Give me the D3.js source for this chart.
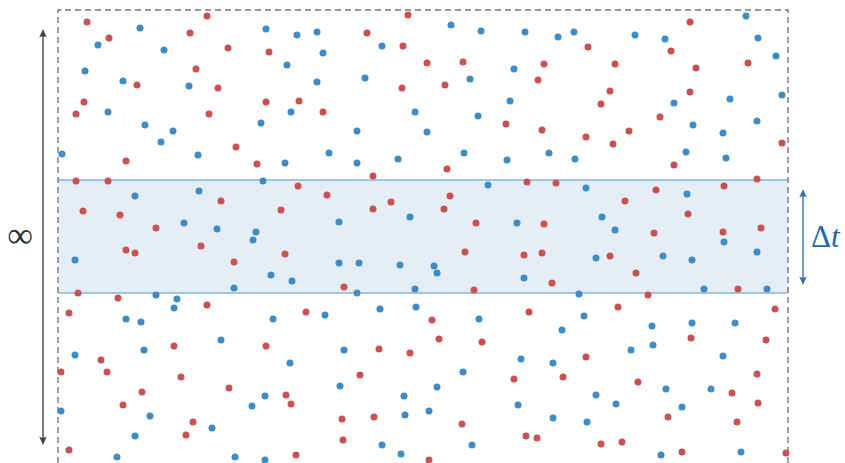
<!DOCTYPE html>
<html lang="en">
<head>
<meta charset="UTF-8" />
<title>Points in a time window</title>
<style>
  body { margin: 0; background: #ffffff; }
  .frame { fill: none; stroke: #777; stroke-width: 1.4; stroke-dasharray: 6 4; }
  .band { fill: #e5eef7; stroke: none; }
  .band-edge { stroke: #88b4d9; stroke-width: 1.3; }
</style>
<script src="https://d3js.org/d3.v7.min.js"></script>
</head>
<body>
<div id="viz"></div>
<script>
  // Field size (arbitrary units, x across, y down)
  const fieldW = 730, fieldH = 453;

  // Highlighted window Δt (y range)
  const bandRange = [170, 283];

  // Red points [x, y]
  const redPoints = [
    [29,12],[149,6],[132,23],[51,28],[170,38],[211,42],[138,59],[79,75],[160,78],[26,92],
    [208,92],[241,91],[18,104],[151,104],[350,5],[309,23],[345,36],[369,53],[405,52],[486,54],
    [344,78],[387,75],[480,70],[265,102],[632,12],[530,37],[613,41],[557,54],[638,58],[690,53],
    [552,81],[632,82],[543,94],[602,107],[68,151],[178,137],[199,154],[18,171],[50,171],[240,176],
    [163,191],[25,201],[62,205],[223,200],[98,218],[448,114],[484,120],[315,166],[389,159],[269,185],
    [315,199],[333,192],[392,186],[386,199],[469,172],[418,213],[486,214],[528,127],[571,121],[555,134],
    [724,133],[616,155],[498,173],[598,180],[666,176],[699,169],[567,191],[630,204],[596,223],[665,222],
    [703,218],[68,240],[77,243],[143,236],[227,244],[176,252],[20,283],[60,288],[11,303],[149,295],
    [116,336],[208,336],[407,242],[466,245],[484,243],[286,277],[416,280],[248,302],[374,310],[471,302],
    [381,329],[424,332],[321,339],[552,246],[578,263],[494,273],[590,285],[680,279],[560,297],[717,299],
    [633,328],[708,330],[43,350],[3,362],[49,362],[123,367],[84,382],[171,378],[228,385],[65,395],
    [233,394],[135,412],[128,425],[11,440],[238,445],[352,343],[302,365],[456,369],[284,409],[316,407],
    [404,414],[285,430],[468,426],[479,428],[371,450],[528,347],[505,367],[580,372],[699,364],[674,383],
    [700,393],[610,407],[679,412],[543,434],[564,432],[624,442],[728,443]
  ];

  // Blue points [x, y]
  const bluePoints = [
    [82,18],[208,19],[239,25],[40,35],[106,40],[27,61],[229,55],[65,71],[131,76],[50,102],
    [233,102],[259,22],[393,15],[423,21],[467,22],[324,36],[265,43],[456,59],[259,72],[307,68],
    [412,69],[452,91],[357,102],[420,106],[500,27],[516,22],[577,25],[607,29],[688,6],[700,28],
    [718,46],[672,89],[724,85],[616,93],[699,111],[87,115],[115,121],[103,132],[203,113],[4,144],
    [140,145],[227,153],[205,171],[77,186],[141,181],[126,213],[159,219],[198,222],[299,121],[369,122],
    [271,143],[299,153],[340,149],[406,143],[449,150],[491,143],[352,207],[430,175],[281,212],[459,213],
    [635,115],[665,123],[517,149],[628,142],[668,148],[528,178],[629,184],[544,207],[557,220],[195,230],
    [17,250],[213,265],[234,271],[176,278],[98,285],[119,289],[116,298],[68,309],[83,312],[215,309],
    [163,330],[86,340],[281,253],[301,253],[342,255],[376,256],[379,263],[466,268],[299,283],[357,279],
    [267,305],[322,299],[358,297],[421,309],[286,340],[666,232],[538,248],[605,246],[634,250],[699,242],
    [521,284],[646,279],[709,279],[526,306],[504,320],[594,316],[634,313],[677,313],[573,340],[595,335],
    [17,345],[232,353],[207,386],[194,396],[3,401],[92,406],[154,418],[77,426],[59,447],[177,447],
    [207,450],[463,349],[405,362],[282,376],[379,377],[346,386],[460,395],[347,405],[371,401],[324,435],
    [414,435],[343,444],[495,353],[665,346],[538,385],[608,379],[653,379],[558,394],[624,397],[495,408],
    [529,412],[603,445],[683,442]
  ];

  const width = 845, height = 463;
  const svg = d3.select('#viz').append('svg')
    .attr('width', width).attr('height', height);

  const x = d3.scaleLinear().domain([0, fieldW]).range([58, 788]);
  const y = d3.scaleLinear().domain([0, fieldH]).range([10, 463]);

  // Band Δt
  svg.append('rect').attr('class', 'band')
    .attr('x', x(0)).attr('y', y(bandRange[0]))
    .attr('width', x(fieldW) - x(0))
    .attr('height', y(bandRange[1]) - y(bandRange[0]));
  bandRange.forEach(v => {
    svg.append('line').attr('class', 'band-edge')
      .attr('x1', x(0)).attr('x2', x(fieldW))
      .attr('y1', y(v)).attr('y2', y(v));
  });

  // Dashed frame (open at bottom)
  svg.append('path').attr('class', 'frame')
    .attr('d', `M${x(0)},${y(fieldH)} L${x(0)},${y(0)} L${x(fieldW)},${y(0)} L${x(fieldW)},${y(fieldH)}`);

  // Points
  svg.selectAll('.red').data(redPoints).enter().append('circle')
    .attr('class', 'red').attr('r', 3.5)
    .attr('cx', d => x(d[0])).attr('cy', d => y(d[1]))
    .attr('fill', '#c95250');
  svg.selectAll('.blue').data(bluePoints).enter().append('circle')
    .attr('class', 'blue').attr('r', 3.5)
    .attr('cx', d => x(d[0])).attr('cy', d => y(d[1]))
    .attr('fill', '#3d8cc6');

  // Double-headed arrow helper
  function arrow(xPos, y0, y1, color) {
    svg.append('line')
      .attr('x1', xPos).attr('x2', xPos)
      .attr('y1', y0 + 2).attr('y2', y1 - 2)
      .attr('stroke', color).attr('stroke-width', 1.4);
    const head = 'M0,0 L-3.8,8.5 Q0,6 3.8,8.5 Z';
    svg.append('path').attr('d', head).attr('fill', color)
      .attr('transform', `translate(${xPos},${y0})`);
    svg.append('path').attr('d', head).attr('fill', color)
      .attr('transform', `translate(${xPos},${y1}) rotate(180)`);
  }

  // Infinity arrow on the left
  arrow(43, 29, 445, '#444');
  svg.append('text')
    .attr('x', 20).attr('y', 247)
    .attr('text-anchor', 'middle')
    .attr('font-family', 'Liberation Serif, serif')
    .attr('font-size', 36)
    .attr('fill', '#333')
    .text('∞');

  // Δt arrow on the right
  arrow(803, y(bandRange[0]) + 9, y(bandRange[1]) - 8, '#2f72b2');
  const dt = svg.append('text')
    .attr('x', 811).attr('y', 247)
    .attr('font-family', 'Liberation Serif, serif')
    .attr('font-size', 31)
    .attr('fill', '#2368ab');
  dt.append('tspan').text('Δ');
  dt.append('tspan').attr('font-style', 'italic').text('t');
</script>
</body>
</html>
